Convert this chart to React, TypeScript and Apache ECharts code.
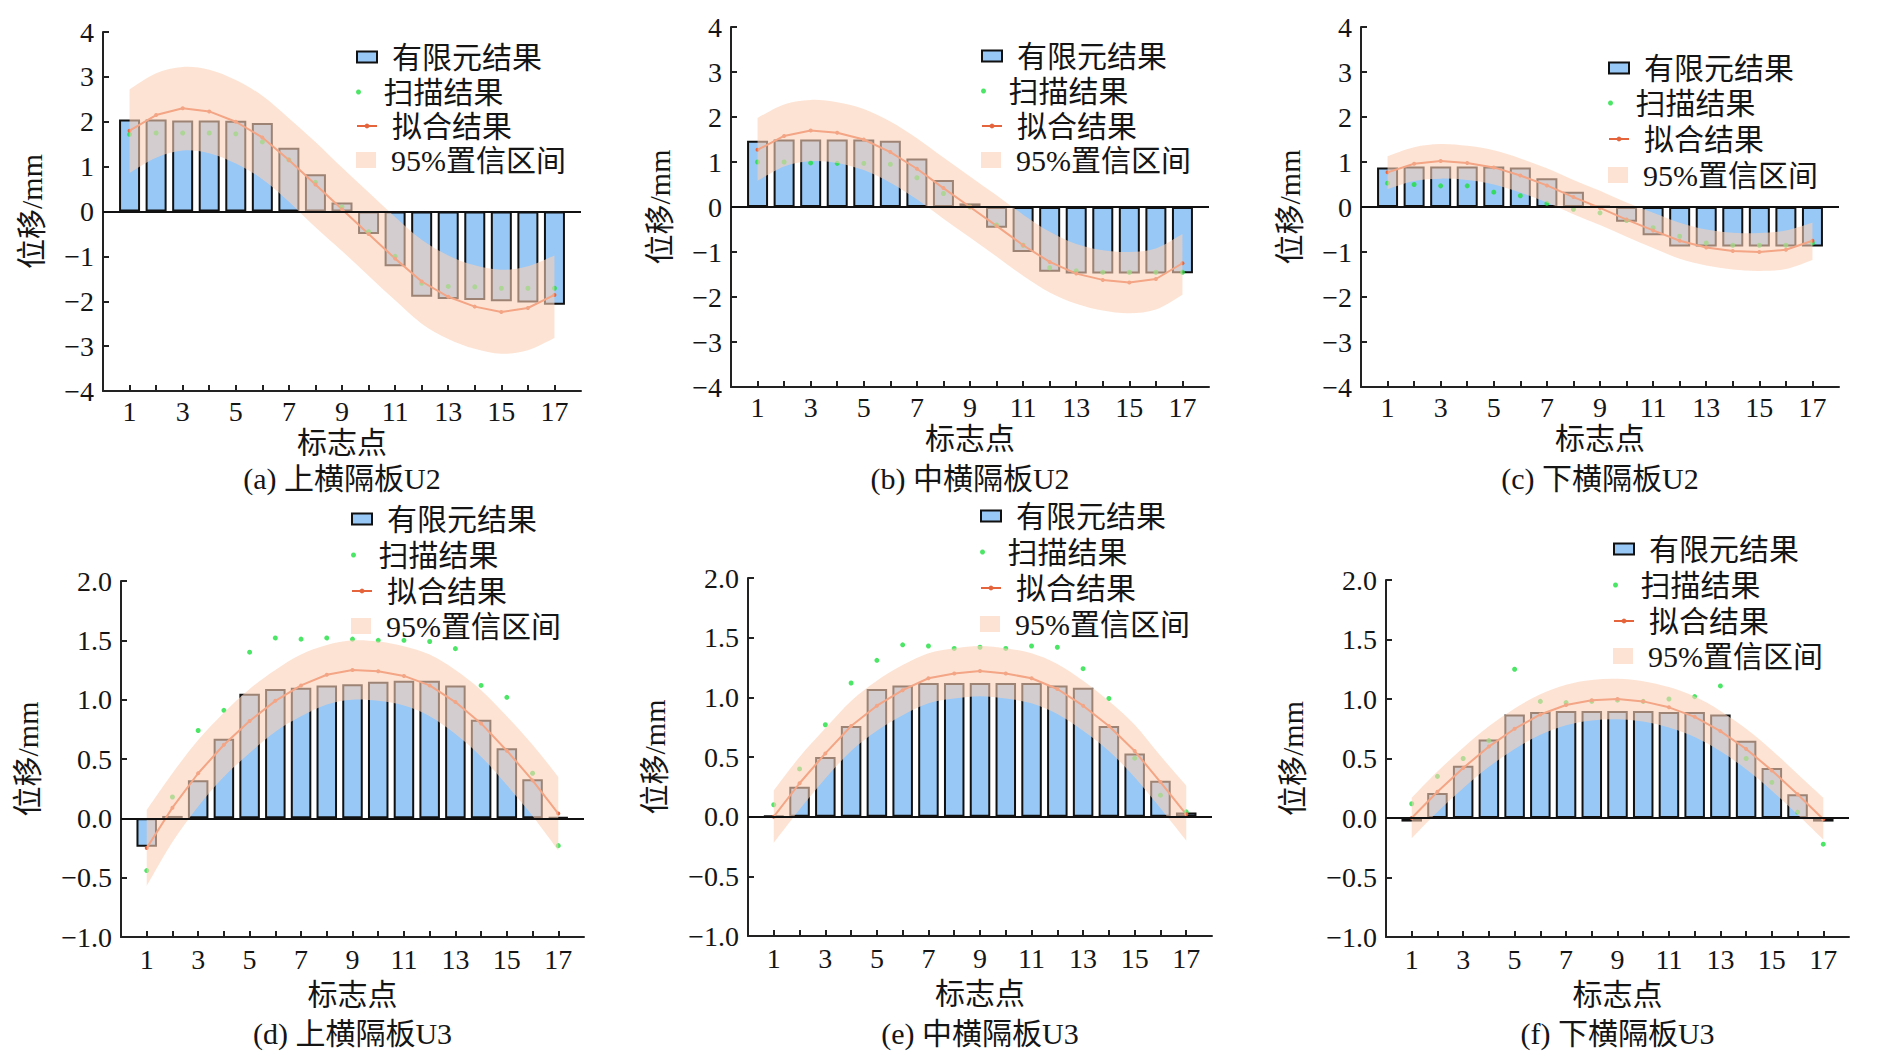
import * as echarts from "echarts";
import { useEffect, useRef } from "react";

// 标志点 1..17
const markers = [1, 2, 3, 4, 5, 6, 7, 8, 9, 10, 11, 12, 13, 14, 15, 16, 17];
const xTickLabels = [1, 3, 5, 7, 9, 11, 13, 15, 17];

// (a) 上横隔板U2
const feA = [2.05, 2.05, 2.03, 2.03, 2.02, 1.97, 1.42, 0.83, 0.2, -0.5, -1.22, -1.9, -1.95, -1.97, -2.0, -2.03, -2.08];
const scanA = [1.72, 1.75, 1.75, 1.75, 1.73, 1.55, 1.15, 0.65, 0.1, -0.45, -1.0, -1.6, -1.67, -1.68, -1.71, -1.71, -1.71];
const fitA = [1.8, 2.15, 2.3, 2.23, 2.0, 1.65, 1.15, 0.6, 0.05, -0.5, -1.05, -1.56, -1.9, -2.12, -2.24, -2.15, -1.86];
const ciUpA = [2.72, 3.08, 3.22, 3.16, 2.93, 2.58, 2.08, 1.55, 0.98, 0.43, -0.12, -0.63, -0.98, -1.2, -1.3, -1.22, -0.98];
const ciLoA = [0.86, 1.2, 1.36, 1.3, 1.07, 0.72, 0.22, -0.35, -0.88, -1.43, -1.98, -2.5, -2.84, -3.06, -3.17, -3.09, -2.82];

// (b) 中横隔板U2
const feB = [1.47, 1.5, 1.5, 1.5, 1.5, 1.47, 1.08, 0.6, 0.08, -0.46, -1.0, -1.44, -1.48, -1.48, -1.48, -1.48, -1.47];
const scanB = [1.0, 1.0, 0.98, 0.97, 0.97, 0.95, 0.65, 0.3, 0.0, -0.4, -0.85, -1.35, -1.42, -1.45, -1.45, -1.45, -1.45];
const fitB = [1.27, 1.58, 1.7, 1.65, 1.5, 1.22, 0.85, 0.42, 0.0, -0.42, -0.85, -1.22, -1.48, -1.62, -1.68, -1.6, -1.25];
const ciUpB = [1.98, 2.28, 2.38, 2.33, 2.18, 1.9, 1.53, 1.1, 0.68, 0.26, -0.17, -0.55, -0.82, -0.96, -1.0, -0.92, -0.6];
const ciLoB = [0.58, 0.9, 1.02, 0.98, 0.82, 0.54, 0.17, -0.26, -0.68, -1.1, -1.53, -1.9, -2.15, -2.3, -2.36, -2.28, -1.95];

// (c) 下横隔板U2
const feC = [0.88, 0.9, 0.9, 0.9, 0.9, 0.88, 0.64, 0.34, 0.02, -0.33, -0.63, -0.88, -0.88, -0.88, -0.88, -0.88, -0.88];
const scanC = [0.53, 0.5, 0.47, 0.47, 0.33, 0.25, 0.08, -0.05, -0.13, -0.3, -0.46, -0.65, -0.8, -0.85, -0.85, -0.85, -0.8];
const fitC = [0.77, 0.96, 1.02, 0.98, 0.88, 0.7, 0.48, 0.22, -0.02, -0.28, -0.52, -0.75, -0.9, -0.98, -1.0, -0.95, -0.75];
const ciUpC = [1.13, 1.33, 1.4, 1.36, 1.26, 1.08, 0.86, 0.6, 0.36, 0.1, -0.13, -0.35, -0.5, -0.57, -0.58, -0.52, -0.35];
const ciLoC = [0.4, 0.58, 0.63, 0.6, 0.5, 0.32, 0.1, -0.16, -0.4, -0.66, -0.91, -1.15, -1.3, -1.39, -1.42, -1.38, -1.18];

// (d) 上横隔板U3
const feD = [-0.24, 0.02, 0.32, 0.67, 1.05, 1.09, 1.1, 1.12, 1.13, 1.15, 1.16, 1.16, 1.12, 0.83, 0.59, 0.33, 0.01];
const scanD = [-0.44, 0.18, 0.74, 0.91, 1.4, 1.52, 1.51, 1.52, 1.51, 1.5, 1.5, 1.49, 1.43, 1.12, 1.02, 0.38, -0.23];
const fitD = [-0.25, 0.09, 0.38, 0.62, 0.82, 0.99, 1.12, 1.21, 1.25, 1.24, 1.2, 1.12, 0.98, 0.8, 0.57, 0.32, 0.04];
const ciUpD = [0.07, 0.38, 0.66, 0.89, 1.09, 1.25, 1.38, 1.46, 1.5, 1.49, 1.45, 1.38, 1.25, 1.08, 0.86, 0.62, 0.35];
const ciLoD = [-0.57, -0.2, 0.1, 0.35, 0.55, 0.73, 0.86, 0.96, 1.0, 0.99, 0.95, 0.86, 0.71, 0.52, 0.28, 0.02, -0.27];

// (e) 中横隔板U3
const feE = [0.005, 0.25, 0.5, 0.76, 1.07, 1.1, 1.12, 1.12, 1.12, 1.12, 1.12, 1.1, 1.08, 0.76, 0.53, 0.3, 0.035];
const scanE = [0.1, 0.4, 0.77, 1.12, 1.31, 1.44, 1.43, 1.41, 1.42, 1.41, 1.43, 1.42, 1.24, 0.99, 0.49, 0.18, 0.04];
const fitE = [0.0, 0.28, 0.53, 0.76, 0.93, 1.06, 1.16, 1.2, 1.22, 1.2, 1.16, 1.07, 0.93, 0.76, 0.55, 0.29, 0.02];
const ciUpE = [0.22, 0.5, 0.74, 0.97, 1.14, 1.27, 1.37, 1.41, 1.43, 1.41, 1.37, 1.28, 1.14, 0.97, 0.77, 0.51, 0.26];
const ciLoE = [-0.22, 0.06, 0.32, 0.55, 0.72, 0.85, 0.95, 0.99, 1.01, 0.99, 0.95, 0.86, 0.72, 0.55, 0.33, 0.07, -0.2];

// (f) 下横隔板U3
const feF = [-0.03, 0.21, 0.44, 0.66, 0.87, 0.89, 0.9, 0.9, 0.9, 0.9, 0.89, 0.89, 0.87, 0.65, 0.42, 0.2, -0.03];
const scanF = [0.12, 0.35, 0.5, 0.65, 1.25, 0.98, 0.97, 0.98, 0.99, 0.98, 1.0, 1.02, 1.11, 0.5, 0.3, 0.05, -0.22];
const fitF = [0.0, 0.22, 0.42, 0.6, 0.75, 0.87, 0.95, 0.99, 1.0, 0.98, 0.93, 0.85, 0.73, 0.58, 0.4, 0.2, -0.01];
const ciUpF = [0.17, 0.39, 0.59, 0.77, 0.92, 1.04, 1.12, 1.16, 1.17, 1.15, 1.1, 1.02, 0.9, 0.75, 0.57, 0.37, 0.17];
const ciLoF = [-0.17, 0.05, 0.25, 0.43, 0.58, 0.7, 0.78, 0.82, 0.83, 0.81, 0.76, 0.68, 0.56, 0.41, 0.23, 0.03, -0.18];

const captions = ["(a) 上横隔板U2", "(b) 中横隔板U2", "(c) 下横隔板U2", "(d) 上横隔板U3", "(e) 中横隔板U3", "(f) 下横隔板U3"];

const FONT = "'Liberation Serif', 'Noto Sans CJK SC', serif";
const INK = "#151515";
const BLUE = "#98c8f6";
const GREEN = "#1fe040";
const ORANGE = "#e5643c";
const BAND = "rgba(251,208,182,0.6)";

// layout of the six panels (pixels)
const panels = [
  { fe: feA, scan: scanA, fit: fitA, up: ciUpA, lo: ciLoA, top: true, left: 103, gTop: 32, width: 478, height: 359, legX: 356, legY: [57, 92, 126, 160] },
  { fe: feB, scan: scanB, fit: fitB, up: ciUpB, lo: ciLoB, top: true, left: 731, gTop: 27, width: 478, height: 360, legX: 981, legY: [56, 91, 126, 160] },
  { fe: feC, scan: scanC, fit: fitC, up: ciUpC, lo: ciLoC, top: true, left: 1361, gTop: 27, width: 478, height: 360, legX: 1608, legY: [68, 103, 139, 175] },
  { fe: feD, scan: scanD, fit: fitD, up: ciUpD, lo: ciLoD, top: false, left: 121, gTop: 581, width: 463, height: 356, legX: 351, legY: [519, 555, 591, 626] },
  { fe: feE, scan: scanE, fit: fitE, up: ciUpE, lo: ciLoE, top: false, left: 748, gTop: 578, width: 464, height: 358, legX: 980, legY: [516, 552, 588, 624] },
  { fe: feF, scan: scanF, fit: fitF, up: ciUpF, lo: ciLoF, top: false, left: 1386, gTop: 580, width: 463, height: 357, legX: 1613, legY: [549, 585, 621, 656] },
];

const fmtY = (top: boolean) => (v: number) => (top ? String(v) : v.toFixed(1)).replace("-", "\u2212");

// cubic bezier segments through pixel points (Catmull-Rom)
const splinePath = (pts: number[][], moveFirst: boolean) => {
  let d = moveFirst ? `M${pts[0][0]},${pts[0][1]}` : `L${pts[0][0]},${pts[0][1]}`;
  for (let k = 0; k < pts.length - 1; k++) {
    const p0 = pts[Math.max(k - 1, 0)];
    const p1 = pts[k];
    const p2 = pts[k + 1];
    const p3 = pts[Math.min(k + 2, pts.length - 1)];
    const c1x = p1[0] + (p2[0] - p0[0]) / 6;
    const c1y = p1[1] + (p2[1] - p0[1]) / 6;
    const c2x = p2[0] - (p3[0] - p1[0]) / 6;
    const c2y = p2[1] - (p3[1] - p1[1]) / 6;
    d += ` C${c1x},${c1y} ${c2x},${c2y} ${p2[0]},${p2[1]}`;
  }
  return d;
};

const App = () => {
  const chartRef = useRef<HTMLDivElement>(null);

  useEffect(() => {
    if (!chartRef.current) return;
    const chart = echarts.init(chartRef.current, null, { renderer: "svg" });

    const grid: any[] = [];
    const xAxis: any[] = [];
    const yAxis: any[] = [];
    const series: any[] = [];
    const legend: any[] = [];
    const graphic: any[] = [];

    panels.forEach((p, i) => {
      grid.push({ left: p.left, top: p.gTop, width: p.width, height: p.height });

      xAxis.push({
        type: "value",
        gridIndex: i,
        min: 0,
        max: 18,
        interval: 1,
        name: "标志点",
        nameLocation: "middle",
        nameGap: p.top ? 36 : 42,
        nameTextStyle: { fontSize: 30, lineHeight: 30, fontFamily: FONT, color: INK },
        axisLine: { onZero: false, lineStyle: { color: "#222", width: 2 } },
        axisTick: { inside: true, length: 6, customValues: markers, lineStyle: { color: "#222", width: 2 } },
        axisLabel: {
          customValues: xTickLabels,
          formatter: (v: number) => (v % 2 === 1 ? String(v) : ""),
          fontSize: 28,
          fontFamily: FONT,
          color: INK,
          margin: p.top ? 6 : 8,
        },
        splitLine: { show: false },
      });

      yAxis.push({
        type: "value",
        gridIndex: i,
        min: p.top ? -4 : -1,
        max: p.top ? 4 : 2,
        interval: p.top ? 1 : 0.5,
        name: "位移/mm",
        nameLocation: "middle",
        nameGap: p.top ? 57 : 79,
        nameTextStyle: { fontSize: 30, lineHeight: 30, fontFamily: FONT, color: INK },
        axisLine: { show: true, lineStyle: { color: "#222", width: 2 } },
        axisTick: { show: true, inside: true, length: 6, lineStyle: { color: "#222", width: 2 } },
        axisLabel: { formatter: fmtY(p.top), fontSize: 28, fontFamily: FONT, color: INK, margin: 9 },
        splitLine: { show: false },
      });

      const idx = { xAxisIndex: i, yAxisIndex: i };

      series.push({
        type: "bar",
        name: "有限元结果",
        ...idx,
        data: markers.map((m, k) => [m, p.fe[k]]),
        barWidth: p.top ? 21 : 20.5,
        itemStyle: { color: BLUE, borderColor: "#111", borderWidth: 2 },
        z: 2,
        markLine: {
          silent: true,
          symbol: "none",
          label: { show: false },
          lineStyle: { color: "#111", width: 2, type: "solid" },
          data: [{ yAxis: 0 }],
        },
      });

      series.push({
        type: "scatter",
        name: "扫描结果",
        ...idx,
        data: markers.map((m, k) => [m, p.scan[k]]),
        symbolSize: 5,
        itemStyle: { color: GREEN },
        z: 3,
      });

      series.push({
        type: "line",
        name: "拟合结果",
        ...idx,
        data: markers.map((m, k) => [m, p.fit[k]]),
        symbol: "circle",
        symbolSize: 4,
        showSymbol: true,
        lineStyle: { color: ORANGE, width: 2 },
        itemStyle: { color: ORANGE },
        z: 3,
      });

      // 95% confidence band: one filled shape through upper and lower bounds
      series.push({
        type: "custom",
        name: "95%置信区间",
        ...idx,
        data: markers.map((m, k) => [m, p.lo[k], p.up[k]]),
        encode: { x: 0, y: [1, 2] },
        itemStyle: { color: BAND },
        silent: true,
        z: 4,
        renderItem: (params: any, api: any) => {
          if (params.dataIndex !== 0) return null;
          const upper = markers.map((m, k) => api.coord([m, p.up[k]]));
          const lower = markers.map((m, k) => api.coord([m, p.lo[k]])).reverse();
          const d = splinePath(upper, true) + " " + splinePath(lower, false) + " Z";
          return {
            type: "path",
            shape: { pathData: d },
            style: { fill: BAND, stroke: "none" },
          };
        },
      });

      const items = [
        { name: "有限元结果", h: 11, icon: "rect", itemStyle: { color: BLUE, borderColor: "#111", borderWidth: 2 } },
        { name: "扫描结果", h: 5, icon: "circle", itemStyle: { color: GREEN, borderWidth: 0 } },
        { name: "拟合结果", h: 6 },
        { name: "95%置信区间", h: 16, icon: "rect", itemStyle: { color: BAND, borderWidth: 0 } },
      ];
      items.forEach((it, j) => {
        const { h, ...dataItem } = it;
        legend.push({
          orient: "vertical",
          left: p.legX,
          top: p.legY[j] - 15,
          padding: 0,
          z: 10,
          itemWidth: 20,
          itemHeight: h,
          selectedMode: false,
          data: [dataItem],
          textStyle: { fontSize: 30, lineHeight: 30, fontFamily: FONT, color: INK, padding: [0, 0, 0, 10] },
        });
      });

      graphic.push({
        type: "text",
        x: p.left + p.width / 2,
        y: p.top ? 478 : 1033,
        style: {
          text: captions[i],
          align: "center",
          verticalAlign: "middle",
          fontSize: 30,
          fontFamily: FONT,
          fill: INK,
        },
      });
    });

    chart.setOption({
      animation: false,
      backgroundColor: "#fff",
      grid,
      xAxis,
      yAxis,
      series,
      legend,
      graphic,
    });

    return () => {
      chart.dispose();
    };
  }, []);

  return (
    <div
      ref={chartRef}
      style={{ position: "fixed", left: 0, top: 0, width: 1891, height: 1055, background: "#fff" }}
    />
  );
};

export default App;
